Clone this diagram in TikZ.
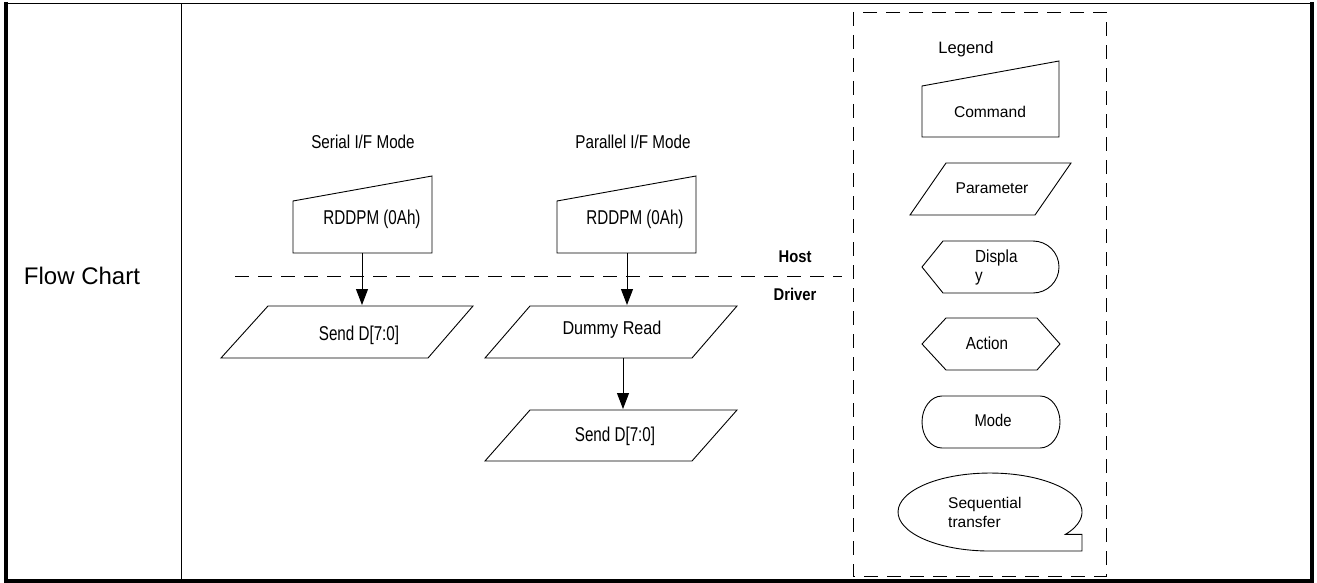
\documentclass[tikz,border=0pt]{standalone}
\usepackage{fontspec}
\setmainfont{Liberation Sans}
\newfontfamily\nfA[FakeStretch=0.76]{Liberation Sans}
\newfontfamily\nfB[FakeStretch=0.82]{Liberation Sans}
\newfontfamily\nfC[FakeStretch=0.87]{Liberation Sans}
\usetikzlibrary{arrows.meta}
\begin{document}
\begin{tikzpicture}[x=1pt,y=-1pt,
  shp/.style={draw, line width=0.9pt, line join=miter},
  lbl/.style={inner sep=0pt},
  cmdtxt/.style={lbl, font=\nfA\fontsize{20}{22}\selectfont},
  ttl/.style={lbl, font=\nfB\fontsize{18.6}{20}\selectfont},
  mid/.style={lbl, font=\nfC\fontsize{18.6}{20}\selectfont},
  hd/.style={lbl, font=\nfC\fontsize{17}{19}\selectfont\bfseries},
  lgs/.style={lbl, font=\nfC\fontsize{17.5}{19}\selectfont},
  lgn/.style={lbl, font=\fontsize{15.6}{19}\selectfont},
  arr/.style={-{Triangle[length=16pt,width=12pt]}, line width=0.9pt},
  dsh/.style={dash pattern=on 14pt off 9pt, line width=0.9pt}]
\useasboundingbox (0,0) rectangle (1317,583);

% table frame
\draw[line width=1.4pt] (4,3.5) -- (1314,3.5);
\draw[line width=4pt] (6,1.8) -- (6,583);
\draw[line width=3.5pt] (1312,1.8) -- (1312,583);
\draw[line width=3.5pt] (4,581) -- (1314,581);
\draw[line width=1pt] (181.5,3.5) -- (181.5,581);

\node[lbl, font=\fontsize{24}{28}\selectfont] (fc) at (82,276) {Flow Chart};

% host/driver boundary
\coordinate (hl) at (235,276);
\coordinate (hr) at (842,276);
\draw[dsh] (hl) -- (hr);
\node[hd] (host) at (795,257) {Host};
\node[hd] (drv) at (795,294) {Driver};

% serial column
\node[ttl] (st) at (363,142) {Serial I/F Mode};
\draw[shp] (293,201) -- (432,176) -- (432,253) -- (293,253) -- cycle;
\node[cmdtxt] (sc) at (372,219) {RDDPM (0Ah)};
\draw[shp] (268,306) -- (473,306) -- (428,358) -- (221,358) -- cycle;
\node[cmdtxt] (sp) at (359,335) {Send D[7:0]};
\coordinate (scb) at (362,253);
\coordinate (spt) at (362,305);
\draw[arr] (scb) -- (spt);

% parallel column
\node[ttl] (pt) at (633,142) {Parallel I/F Mode};
\draw[shp] (557,201) -- (696,176) -- (696,253) -- (557,253) -- cycle;
\node[cmdtxt] (pc) at (635,219) {RDDPM (0Ah)};
\draw[shp] (530,306) -- (737,306) -- (692,358) -- (485,358) -- cycle;
\node[mid] (pd) at (612,330) {Dummy Read};
\draw[shp] (530,410) -- (737,410) -- (692,461) -- (485,461) -- cycle;
\node[cmdtxt] (ps) at (615,436) {Send D[7:0]};
\coordinate (pcb) at (627,253);
\coordinate (pdt) at (627,305);
\coordinate (pdb) at (623,358);
\coordinate (pst) at (623,409);
\draw[arr] (pcb) -- (pdt);
\draw[arr] (pdb) -- (pst);

% legend
\draw[dsh] (853,12) rectangle (1106,576);
\node[lbl, font=\fontsize{16.5}{19}\selectfont] (lg) at (966,49) {Legend};
\draw[shp] (922,86) -- (1059,61) -- (1059,137) -- (922,137) -- cycle;
\node[lgn] (lc) at (990,112) {Command};
\draw[shp] (946,163) -- (1071,163) -- (1035,215) -- (910,215) -- cycle;
\node[lgn] (lp) at (992,188) {Parameter};
\draw[shp] (922,267) -- (943,241) -- (1033,241)
  arc[start angle=-90, end angle=90, radius=26] -- (943,293) -- cycle;
\node[lgs, align=left, anchor=west] (ld) at (975,267) {Displa\\y};
\draw[shp] (922,344) -- (946,318) -- (1037,318) -- (1060,344) -- (1037,370) -- (946,370) -- cycle;
\node[lgs] (la) at (987,343) {Action};
\draw[shp] (942,396) -- (1040,396)
  arc[start angle=-90, end angle=90, x radius=20, y radius=26] -- (942,448)
  arc[start angle=90, end angle=270, x radius=20, y radius=26] -- cycle;
\node[lbl, font=\nfC\fontsize{17}{19}\selectfont] (lm) at (993,420) {Mode};
\draw[shp] (1065.4,534.4) arc[start angle=35, end angle=-270, x radius=92, y radius=39]
  -- (1082,551) -- (1082,534.4) -- cycle;
\node[lbl, font=\fontsize{15.5}{19}\selectfont, align=left, anchor=west] (lsq) at (948,512.5) {Sequential\\transfer};
\end{tikzpicture}
\end{document}
